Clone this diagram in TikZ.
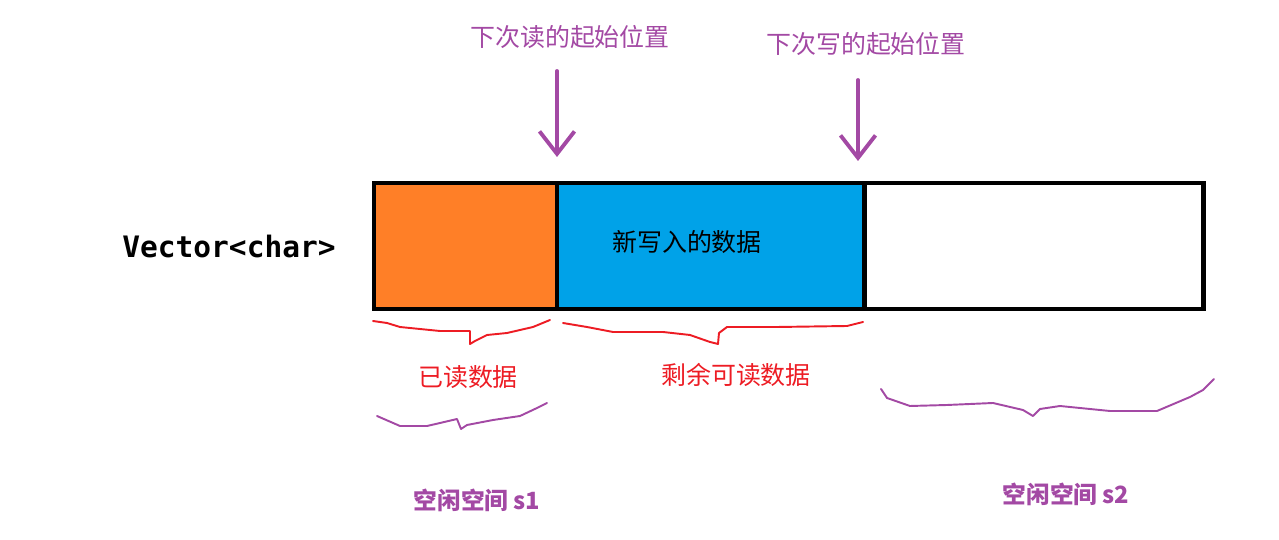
\documentclass[tikz,border=0pt]{standalone}
\usepackage{fontspec}
\usetikzlibrary{arrows.meta,positioning}
\newfontfamily\cjk{Noto Sans CJK SC}
\newfontfamily\pixmono{DejaVu Sans Mono}
\definecolor{BufOrange}{RGB}{255,127,39}
\definecolor{BufBlue}{RGB}{0,162,232}
\definecolor{BufPurple}{RGB}{163,73,164}
\definecolor{BufRed}{RGB}{237,28,36}
\tikzset{
  buf/cell/.style={
    rectangle,
    draw=black,
    line width=2.8pt,
    minimum height=2.52cm,
    inner sep=0pt,
    outer sep=0pt
  },
  buf/ptr/.style={-{Straight Barb[length=4.5mm,width=7mm]}, line width=2.2pt, draw=BufPurple, line cap=round},
  buf/brace/.style={line width=1.1pt, line join=round, line cap=round},
  buf/ptrlabel/.style={font=\cjk\fontsize{14.2}{16}\selectfont, text=BufPurple},
  buf/celltext/.style={font=\cjk\fontsize{14.2}{16}\selectfont, text=black},
  buf/bracetext/.style={font=\cjk\fontsize{14.2}{16}\selectfont, text=BufRed},
  buf/freetext/.style={font=\cjk\bfseries\fontsize{13.5}{16}\selectfont, text=BufPurple},
  buf/typename/.style={font=\pixmono\bfseries\fontsize{16.8}{18}\selectfont, text=black}
}

\begin{document}
\begin{tikzpicture}[x=0.02cm,y=-0.02cm]
  \useasboundingbox (0,0) rectangle (1279,540);

  % the buffer
  \node[buf/cell,fill=BufOrange,minimum width=3.66cm,anchor=north west] (readcell) at (374,183) {};
  \node[buf/cell,fill=BufBlue,minimum width=6.16cm,right=0pt of readcell] (datacell) {};
  \node[buf/cell,fill=white,minimum width=6.78cm,right=0pt of datacell] (freecell) {};
  \node[buf/typename] (vec) at (229,246) {Vector<char>};
  \node[buf/celltext] (newdata) at (687,242) {新写入的数据};

  % read / write positions
  \node[buf/ptrlabel] (readlbl) at (570,37) {下次读的起始位置};
  \node[buf/ptrlabel] (writelbl) at (866,44) {下次写的起始位置};
  \coordinate (readfrom) at (557,71);
  \coordinate (readpos) at (557,157);
  \coordinate (writefrom) at (858,80);
  \coordinate (writepos) at (858,161);
  \draw[buf/ptr] (readfrom) -- (readpos);
  \draw[buf/ptr] (writefrom) -- (writepos);

  % braces under the buffer
  \draw[buf/brace,BufRed] (373,321) -- (387,323) -- (400,327) -- (440,331) -- (470,331)
    -- (470,344) -- (475,341) -- (487,335) -- (507,333) -- (533,327) -- (550,320);
  \draw[buf/brace,BufRed] (563,323) -- (587,327) -- (613,332) -- (663,332) -- (690,335)
    -- (710,342) -- (718,344) -- (719,333) -- (727,327) -- (777,327) -- (847,326) -- (863,322);
  \draw[buf/brace,BufPurple] (377,416) -- (400,426) -- (427,426) -- (440,423) -- (457,419)
    -- (461,429) -- (467,425) -- (493,420) -- (520,416) -- (537,408) -- (547,403);
  \draw[buf/brace,BufPurple] (881,389) -- (887,398) -- (910,406) -- (947,405) -- (993,403)
    -- (1023,410) -- (1033,416) -- (1040,409) -- (1060,406) -- (1110,411) -- (1157,411)
    -- (1190,397) -- (1203,390) -- (1214,379);

  \node[buf/bracetext] (readdata) at (468,377) {已读数据};
  \node[buf/bracetext] (leftdata) at (736,375) {剩余可读数据};
  \node[buf/freetext] (frees1) at (477,500) {空闲空间 s1};
  \node[buf/freetext] (frees2) at (1066,494) {空闲空间 s2};
\end{tikzpicture}
\end{document}
